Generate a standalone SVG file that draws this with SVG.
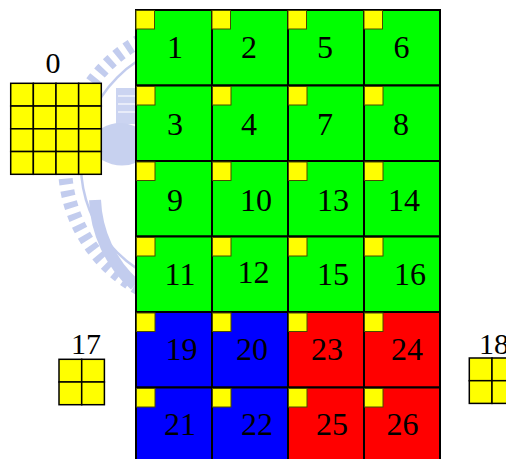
<svg xmlns="http://www.w3.org/2000/svg" width="506" height="459" viewBox="0 0 506 459">
  <style>
    .g { fill: #00ff00; }
    .b { fill: #0000ff; }
    .r { fill: #ff0000; }
    .cell { stroke: #000; stroke-width: 2; }
    .mark { fill: #ffff00; stroke: #4a4a00; stroke-width: 1; }
    .y { fill: #ffff00; stroke: #000; stroke-width: 1.5; }
    .num { font-family: "Liberation Serif", "Times New Roman", serif; font-size: 32px; fill: #000; text-anchor: middle; }
    .lbl { font-family: "Liberation Serif", "Times New Roman", serif; font-size: 30px; fill: #000; text-anchor: middle; }
    .wm { fill: none; stroke: #b4c0ea; }
  </style>
  <rect width="506" height="459" fill="#fff"/>
  <!-- faint watermark behind grid -->
  <g id="watermark" opacity="0.8">
    <circle class="wm" cx="205" cy="165" r="140" stroke-width="14" stroke-dasharray="6 6"/>
    <circle class="wm" cx="205" cy="165" r="124" stroke-width="2.5"/>
    <path d="M95,200 A120,120 0 0 0 135,285" class="wm" stroke-width="12"/>
    <rect x="116" y="88" width="22" height="36" fill="#bfcaee"/>
    <path d="M118,96 H136 M118,104 H136 M118,112 H136" stroke="#e3e8f8" stroke-width="2"/>
    <path d="M102,128 Q120,118 138,128 V162 Q120,170 102,160 Z" fill="#bac6ec"/>
  </g>

  <g id="node-0">
    <text class="lbl" x="53" y="73">0</text>
    <g class="y">
      <rect x="10.7" y="83.3" width="22.65" height="22.75"/>
      <rect x="33.35" y="83.3" width="22.65" height="22.75"/>
      <rect x="56" y="83.3" width="22.65" height="22.75"/>
      <rect x="78.65" y="83.3" width="22.65" height="22.75"/>
      <rect x="10.7" y="106.05" width="22.65" height="22.75"/>
      <rect x="33.35" y="106.05" width="22.65" height="22.75"/>
      <rect x="56" y="106.05" width="22.65" height="22.75"/>
      <rect x="78.65" y="106.05" width="22.65" height="22.75"/>
      <rect x="10.7" y="128.8" width="22.65" height="22.75"/>
      <rect x="33.35" y="128.8" width="22.65" height="22.75"/>
      <rect x="56" y="128.8" width="22.65" height="22.75"/>
      <rect x="78.65" y="128.8" width="22.65" height="22.75"/>
      <rect x="10.7" y="151.55" width="22.65" height="22.75"/>
      <rect x="33.35" y="151.55" width="22.65" height="22.75"/>
      <rect x="56" y="151.55" width="22.65" height="22.75"/>
      <rect x="78.65" y="151.55" width="22.65" height="22.75"/>
    </g>
  </g>

  <g id="node-17">
    <text class="lbl" x="86" y="354">17</text>
    <g class="y">
      <rect x="59" y="359.3" width="22.7" height="22.7"/>
      <rect x="81.7" y="359.3" width="22.7" height="22.7"/>
      <rect x="59" y="382" width="22.7" height="22.7"/>
      <rect x="81.7" y="382" width="22.7" height="22.7"/>
    </g>
  </g>

  <g id="node-18">
    <text class="lbl" x="494" y="354">18</text>
    <g class="y">
      <rect x="469.3" y="358" width="22.7" height="22.7"/>
      <rect x="492" y="358" width="22.7" height="22.7"/>
      <rect x="469.3" y="380.7" width="22.7" height="22.7"/>
      <rect x="492" y="380.7" width="22.7" height="22.7"/>
    </g>
  </g>

  <!-- row 1 -->
  <g id="node-1"><rect class="cell g" x="136" y="10" width="76" height="75.5"/><rect class="mark" x="136" y="10.5" width="18.5" height="18.5"/><text class="num" x="175" y="58">1</text></g>
  <g id="node-2"><rect class="cell g" x="212" y="10" width="76" height="75.5"/><rect class="mark" x="212" y="10.5" width="18.5" height="18.5"/><text class="num" x="249" y="58">2</text></g>
  <g id="node-5"><rect class="cell g" x="288" y="10" width="76" height="75.5"/><rect class="mark" x="288" y="10.5" width="18.5" height="18.5"/><text class="num" x="325" y="58">5</text></g>
  <g id="node-6"><rect class="cell g" x="364" y="10" width="76" height="75.5"/><rect class="mark" x="364" y="10.5" width="18.5" height="18.5"/><text class="num" x="401.5" y="58">6</text></g>
  <!-- row 2 -->
  <g id="node-3"><rect class="cell g" x="136" y="85.5" width="76" height="75.5"/><rect class="mark" x="136.5" y="86.5" width="18.5" height="18.5"/><text class="num" x="175" y="135">3</text></g>
  <g id="node-4"><rect class="cell g" x="212" y="85.5" width="76" height="75.5"/><rect class="mark" x="212.5" y="86.5" width="18.5" height="18.5"/><text class="num" x="249" y="135">4</text></g>
  <g id="node-7"><rect class="cell g" x="288" y="85.5" width="76" height="75.5"/><rect class="mark" x="288.5" y="86.5" width="18.5" height="18.5"/><text class="num" x="325" y="135">7</text></g>
  <g id="node-8"><rect class="cell g" x="364" y="85.5" width="76" height="75.5"/><rect class="mark" x="364.5" y="86.5" width="18.5" height="18.5"/><text class="num" x="401" y="135">8</text></g>
  <!-- row 3 -->
  <g id="node-9"><rect class="cell g" x="136" y="161" width="76" height="75.5"/><rect class="mark" x="136.5" y="162" width="18.5" height="18.5"/><text class="num" x="175" y="210.5">9</text></g>
  <g id="node-10"><rect class="cell g" x="212" y="161" width="76" height="75.5"/><rect class="mark" x="212.5" y="162" width="18.5" height="18.5"/><text class="num" x="256" y="210.5">10</text></g>
  <g id="node-13"><rect class="cell g" x="288" y="161" width="76" height="75.5"/><rect class="mark" x="288.5" y="162" width="18.5" height="18.5"/><text class="num" x="333" y="210.5">13</text></g>
  <g id="node-14"><rect class="cell g" x="364" y="161" width="76" height="75.5"/><rect class="mark" x="364.5" y="162" width="18.5" height="18.5"/><text class="num" x="404" y="210.5">14</text></g>
  <!-- row 4 -->
  <g id="node-11"><rect class="cell g" x="136" y="236.5" width="76" height="75.5"/><rect class="mark" x="136.5" y="237.5" width="18.5" height="18.5"/><text class="num" x="180" y="285">11</text></g>
  <g id="node-12"><rect class="cell g" x="212" y="236.5" width="76" height="75.5"/><rect class="mark" x="212.5" y="237.5" width="18.5" height="18.5"/><text class="num" x="253.5" y="282.5">12</text></g>
  <g id="node-15"><rect class="cell g" x="288" y="236.5" width="76" height="75.5"/><rect class="mark" x="288.5" y="237.5" width="18.5" height="18.5"/><text class="num" x="333" y="285">15</text></g>
  <g id="node-16"><rect class="cell g" x="364" y="236.5" width="76" height="75.5"/><rect class="mark" x="364.5" y="237.5" width="18.5" height="18.5"/><text class="num" x="410" y="285">16</text></g>
  <!-- row 5 -->
  <g id="node-19"><rect class="cell b" x="136" y="312" width="76" height="75.5"/><rect class="mark" x="136.5" y="313" width="18.5" height="18.5"/><text class="num" x="181.5" y="360">19</text></g>
  <g id="node-20"><rect class="cell b" x="212" y="312" width="76" height="75.5"/><rect class="mark" x="212.5" y="313" width="18.5" height="18.5"/><text class="num" x="252" y="360">20</text></g>
  <g id="node-23"><rect class="cell r" x="288" y="312" width="76" height="75.5"/><rect class="mark" x="288.5" y="313" width="18.5" height="18.5"/><text class="num" x="327" y="359.5">23</text></g>
  <g id="node-24"><rect class="cell r" x="364" y="312" width="76" height="75.5"/><rect class="mark" x="364.5" y="313" width="18.5" height="18.5"/><text class="num" x="407" y="359.5">24</text></g>
  <!-- row 6 -->
  <g id="node-21"><rect class="cell b" x="136" y="387.5" width="76" height="75.5"/><rect class="mark" x="136.5" y="388.5" width="18.5" height="18.5"/><text class="num" x="180" y="435">21</text></g>
  <g id="node-22"><rect class="cell b" x="212" y="387.5" width="76" height="75.5"/><rect class="mark" x="212.5" y="388.5" width="18.5" height="18.5"/><text class="num" x="257" y="435">22</text></g>
  <g id="node-25"><rect class="cell r" x="288" y="387.5" width="76" height="75.5"/><rect class="mark" x="288.5" y="388.5" width="18.5" height="18.5"/><text class="num" x="332" y="435">25</text></g>
  <g id="node-26"><rect class="cell r" x="364" y="387.5" width="76" height="75.5"/><rect class="mark" x="364.5" y="388.5" width="18.5" height="18.5"/><text class="num" x="402.5" y="435">26</text></g>

  <g id="connectors"></g>
</svg>
